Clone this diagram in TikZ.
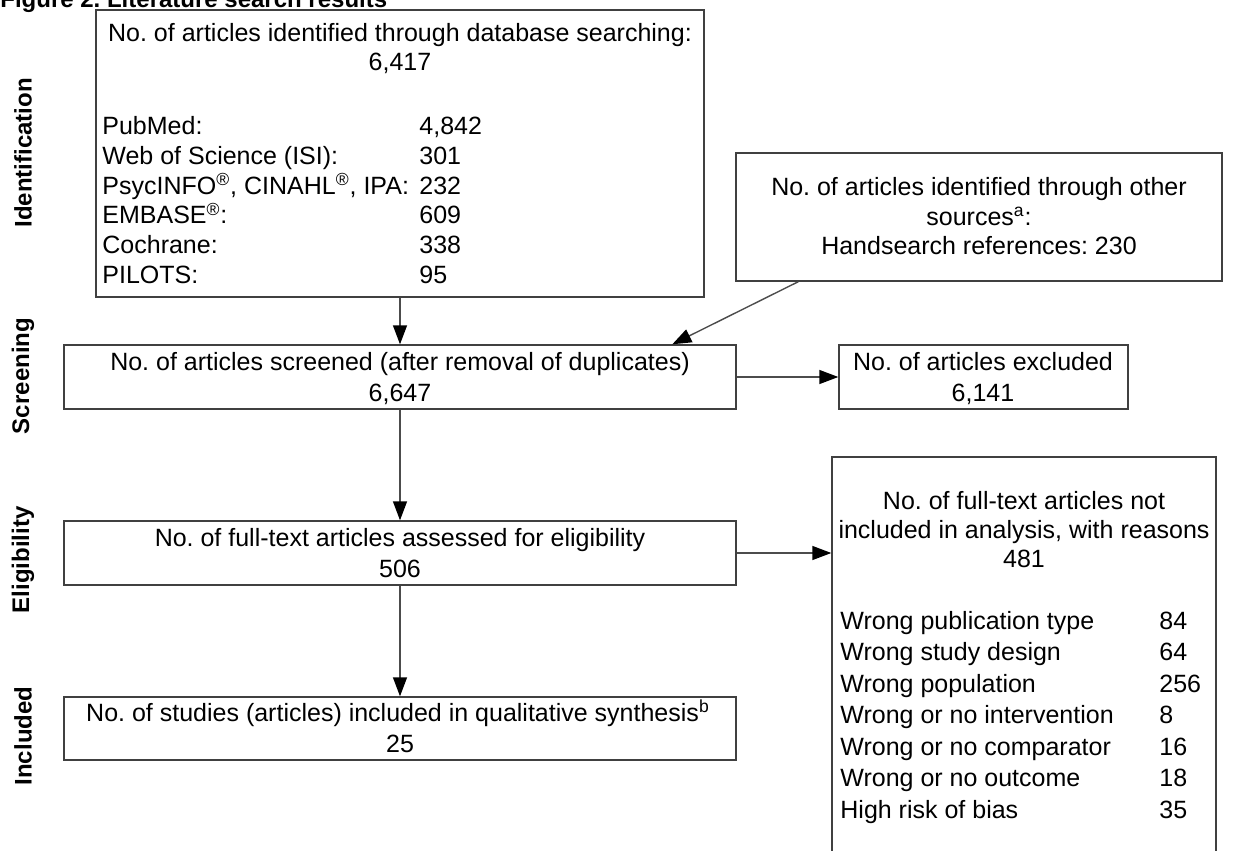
\documentclass[tikz,border=0pt]{standalone}
\usepackage{fontspec}
\setmainfont{Liberation Sans}
\usetikzlibrary{arrows.meta,fit}
\begin{document}
\frenchspacing
\begin{tikzpicture}[x=0.5pt,y=-0.5pt,
  box/.style={draw=black!75,line width=0.7pt,inner sep=0pt},
  txt/.style={anchor=base,inner sep=0pt,font=\fontsize{12.5pt}{15pt}\selectfont},
  ltxt/.style={txt,anchor=base west},
  sec/.style={inner sep=0pt,rotate=90,font=\fontsize{12pt}{14pt}\selectfont\bfseries},
  arr/.style={draw=black!70,line width=0.7pt,-{Triangle[length=9.5pt,width=7pt,color=black]}}
]
\useasboundingbox (0,0) rectangle (1245,850);
\clip (0,0) rectangle (1245,850);

% title
\node[anchor=base west,inner sep=0pt,font=\fontsize{12pt}{14pt}\selectfont\bfseries] (title) at (0,8) {Figure 2. Literature search results};

% section labels
\node[sec] (sid) at (23,153) {Identification};
\node[sec] (ssc) at (23,376) {Screening};
\node[sec] (sel) at (23,560) {Eligibility};
\node[sec] (sin) at (23,736) {Included};

% boxes
\node[box,fit={(96,10) (704,297)}] (b1) {};
\node[box,fit={(736,153) (1222,281)}] (b2) {};
\node[box,fit={(64,345) (736,409)}] (b3) {};
\node[box,fit={(839,345) (1128,409)}] (b4) {};
\node[box,fit={(64,521) (736,585)}] (b5) {};
\node[box,fit={(832,457) (1216,900)}] (b6) {};
\node[box,fit={(64,697) (736,760)}] (b7) {};

% box 1 text
\node[txt] (t1a) at (400,42) {No. of articles identified through database searching:};
\node[txt] (t1b) at (400,71) {6,417};
\foreach \lab/\num [count=\i] in {
  {PubMed:}/{4,842},
  {Web of Science (ISI):}/{301},
  {PsycINFO\textsuperscript{\textregistered}, CINAHL\textsuperscript{\textregistered}, IPA:}/{232},
  {EMBASE\textsuperscript{\textregistered}:}/{609},
  {Cochrane:}/{338},
  {PILOTS:}/{95}}{
  \node[ltxt] (l1\i) at (102,{135+29.6*(\i-1)}) {\lab};
  \node[ltxt] (n1\i) at (419,{135+29.6*(\i-1)}) {\num};
}

% box 2 text
\node[txt] (t2a) at (979,196) {No. of articles identified through other};
\node[txt] (t2b) at (979,225) {sources\textsuperscript{a}:};
\node[txt] (t2c) at (979,254) {Handsearch references: 230};

% box 3 text
\node[txt] (t3a) at (400,370) {No. of articles screened (after removal of duplicates)};
\node[txt] (t3b) at (400,401) {6,647};

% box 4 text
\node[txt] (t4a) at (983,370) {No. of articles excluded};
\node[txt] (t4b) at (983,401) {6,141};

% box 5 text
\node[txt] (t5a) at (400,546) {No. of full-text articles assessed for eligibility};
\node[txt] (t5b) at (400,577) {506};

% box 6 text
\node[txt] (t6a) at (1024,509) {No. of full-text articles not};
\node[txt] (t6b) at (1024,538) {included in analysis, with reasons};
\node[txt] (t6c) at (1024,567) {481};
\foreach \lab/\num [count=\i] in {
  {Wrong publication type}/{84},
  {Wrong study design}/{64},
  {Wrong population}/{256},
  {Wrong or no intervention}/{8},
  {Wrong or no comparator}/{16},
  {Wrong or no outcome}/{18},
  {High risk of bias}/{35}}{
  \node[ltxt] (l6\i) at (840,{629+31.5*(\i-1)}) {\lab};
  \node[ltxt] (n6\i) at (1159,{629+31.5*(\i-1)}) {\num};
}

% box 7 text
\node[txt] (t7a) at (398,721) {No. of studies (articles) included in qualitative synthesis\textsuperscript{b}};
\node[txt] (t7b) at (400,752) {25};

% connectors
\draw[arr] (b1.south) -- (b3.north);
\draw[arr] ([xshift=31.5pt]b2.south west) -- ([xshift=304.5pt]b3.north west);
\draw[arr] (b3.east) -- (b4.west);
\draw[arr] (b3.south) -- (b5.north);
\draw[arr] (b5.east) -- (b5.east -| b6.west);
\draw[arr] (b5.south) -- (b7.north);
\end{tikzpicture}
\end{document}
